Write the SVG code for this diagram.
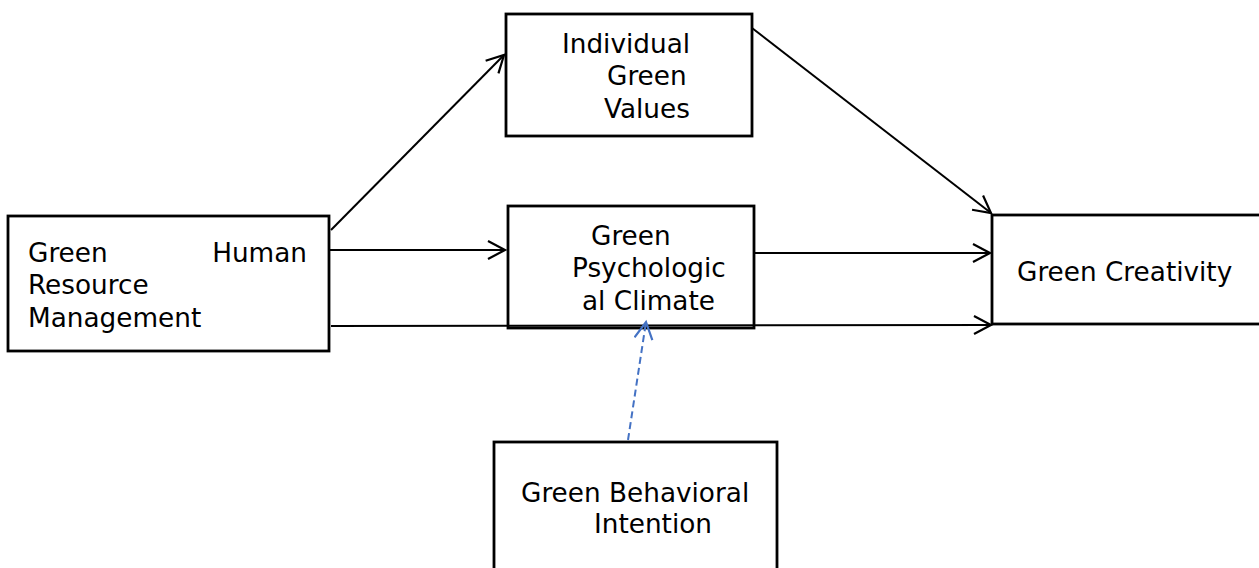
<svg xmlns="http://www.w3.org/2000/svg" width="1259" height="568" viewBox="0 0 1259 568">
<style>
.box{fill:#fff;stroke:#000;stroke-width:2.8}
.t{font-family:"DejaVu Sans",Verdana,sans-serif;font-size:26.3px;fill:#000}
.c{fill:none;stroke:#000;stroke-width:2}
.d{fill:none;stroke:#4472C4;stroke-width:2;stroke-dasharray:7,4}
</style>
<defs>
<marker id="a" markerUnits="userSpaceOnUse" markerWidth="22" markerHeight="22" refX="18" refY="10" orient="auto">
<path d="M1,1 L18,10 L1,19" fill="none" stroke="#000" stroke-width="2.2"/>
</marker>
<marker id="b" markerUnits="userSpaceOnUse" markerWidth="22" markerHeight="22" refX="18" refY="10" orient="auto">
<path d="M1,1 L18,10 L1,19" fill="none" stroke="#4472C4" stroke-width="2.2"/>
</marker>
</defs>
<rect width="1259" height="568" fill="#fff"/>
<g id="ghrm">
<rect class="box" x="8" y="216" width="321" height="135"/>
<text class="t" x="28" y="262">Green</text>
<text class="t" x="307" y="262" text-anchor="end">Human</text>
<text class="t" x="28" y="294">Resource</text>
<text class="t" x="28" y="327">Management</text>
</g>
<g id="igv">
<rect class="box" x="506" y="14" width="246" height="122"/>
<text class="t" x="562" y="53">Individual</text>
<text class="t" x="607" y="85">Green</text>
<text class="t" x="604" y="118">Values</text>
</g>
<g id="gpc">
<rect class="box" x="508" y="206" width="246" height="122"/>
<text class="t" x="591" y="245">Green</text>
<text class="t" x="572" y="277">Psychologic</text>
<text class="t" x="582" y="310">al Climate</text>
</g>
<g id="gc">
<rect class="box" x="992" y="215" width="270" height="109"/>
<text class="t" x="1017" y="281">Green Creativity</text>
</g>
<g id="gbi">
<rect class="box" x="494" y="442" width="283" height="130"/>
<text class="t" x="521" y="502">Green Behavioral</text>
<text class="t" x="594" y="533">Intention</text>
</g>
<g id="connectors">
<line class="c" x1="331" y1="230" x2="504" y2="55" marker-end="url(#a)"/>
<line class="c" x1="752" y1="28" x2="991" y2="213" marker-end="url(#a)"/>
<line class="c" x1="329" y1="250" x2="505" y2="250" marker-end="url(#a)"/>
<line class="c" x1="754" y1="253" x2="990" y2="253" marker-end="url(#a)"/>
<line class="c" x1="331" y1="326" x2="991" y2="325" marker-end="url(#a)"/>
<line class="d" x1="628" y1="440" x2="646" y2="322" marker-end="url(#b)"/>
</g>
</svg>
